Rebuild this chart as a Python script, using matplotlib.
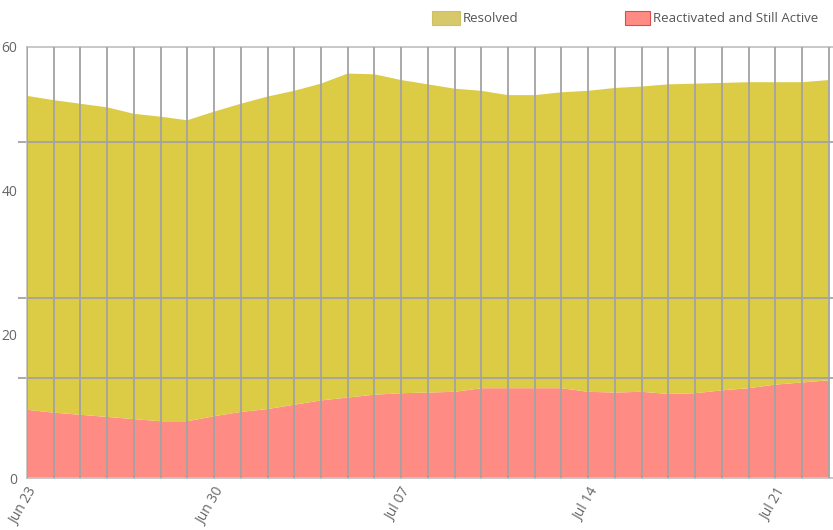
import numpy as np
import pandas as pd
import matplotlib
matplotlib.use("Agg")
import matplotlib.pyplot as plt
import matplotlib.dates as mdates
from matplotlib.patches import Rectangle

plt.rcParams['font.family'] = ['Open Sans', 'DejaVu Sans']

# daily counts, Jun 23 .. Jul 23
days = pd.date_range("2014-06-23", "2014-07-23", freq="D")
reactivated = [9.5, 9.1, 8.8, 8.5, 8.2, 7.9, 7.9, 8.6, 9.2, 9.6,
               10.2, 10.8, 11.2, 11.6, 11.8, 11.9, 12.0, 12.5, 12.5, 12.5,
               12.5, 12.0, 11.9, 12.0, 11.7, 11.8, 12.2, 12.5, 13.0, 13.3,
               13.6]
resolved = [43.7, 43.5, 43.3, 43.1, 42.5, 42.4, 41.9, 42.4, 42.9, 43.5,
            43.7, 44.1, 45.1, 44.6, 43.6, 42.9, 42.2, 41.4, 40.8, 40.8,
            41.2, 41.9, 42.4, 42.5, 43.1, 43.1, 42.8, 42.6, 42.1, 41.8,
            41.8]
yticks = [0, 20, 40, 60]
hlines = [13.9, 25.1, 46.8]
xticks = ["2014-06-23", "2014-06-30", "2014-07-07", "2014-07-14", "2014-07-21"]

c_res = "#dccb45"
c_act = "#ff8c84"
c_grid = "#a3a3a3"

fig = plt.figure(figsize=(8.33, 5.30), dpi=100)
ax = fig.add_axes([27 / 833, 1 - 478 / 530, 1 - 27 / 833, 431 / 530])

x = mdates.date2num(days)
ax.stackplot(x, reactivated, resolved, colors=[c_act, c_res], linewidth=0)

ax.set_ylim(0, 60)
ax.set_xlim(x[0], x[0] + 30.16)

# day lines on top of the areas
for xv in x:
    ax.axvline(xv, color=c_grid, lw=1.3, zorder=3)
for yv in hlines:
    ax.axhline(yv, color=c_grid, lw=1.3, zorder=3)

ax.set_yticks(yticks)
ax.set_yticklabels([str(v) for v in yticks])
ax.set_yticks(hlines, minor=True)
ax.tick_params(axis="y", which="major", length=0, pad=7, labelsize=10,
               labelcolor="#666666")
ax.tick_params(axis="y", which="minor", length=6.5, width=1.3, color=c_grid)

ax.set_xticks(mdates.date2num(pd.to_datetime(xticks)))
ax.xaxis.set_major_formatter(mdates.DateFormatter("%b %d"))
ax.tick_params(axis="x", length=0, pad=5, labelsize=10, labelcolor="#666666")
for lbl in ax.get_xticklabels():
    lbl.set_rotation(60)
    lbl.set_ha("right")
    lbl.set_va("top")
    lbl.set_rotation_mode("anchor")

for side in ["left", "top", "bottom"]:
    ax.spines[side].set_color("#c4c4c4")
    ax.spines[side].set_linewidth(1.3)
ax.spines["right"].set_visible(False)

# legend row
fig.patches.append(Rectangle((432 / 833, 1 - 25 / 530), 28 / 833, 14 / 530,
                             transform=fig.transFigure, facecolor="#d8c86c",
                             edgecolor="#cfc060", lw=0.8))
fig.text(463 / 833, 1 - 18 / 530, "Resolved", fontsize=9.5, color="#555555",
         va="center", ha="left")
fig.patches.append(Rectangle((625 / 833, 1 - 25 / 530), 25 / 833, 14 / 530,
                             transform=fig.transFigure, facecolor=c_act,
                             edgecolor="#e0484c", lw=0.8))
fig.text(653 / 833, 1 - 18 / 530, "Reactivated and Still Active", fontsize=9.5,
         color="#555555", va="center", ha="left")

fig.savefig("out.png", dpi=100)
